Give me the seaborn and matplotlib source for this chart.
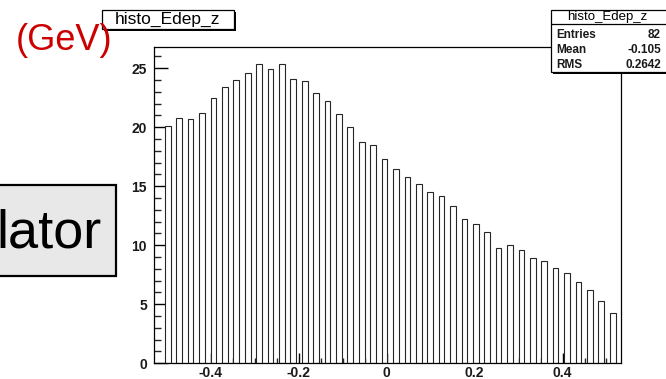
import numpy as np
import pandas as pd
import matplotlib
matplotlib.use("Agg")
import matplotlib.pyplot as plt
import seaborn as sns
from matplotlib.patches import Rectangle
from matplotlib.lines import Line2D
from matplotlib.ticker import MultipleLocator

# ---- data ----
bin_low = -0.511
bin_high = 0.527
n_bins = 40
counts = [20.1, 20.8, 20.7, 21.2, 22.5, 23.4, 24.0, 24.6, 25.4, 24.9,
          25.4, 24.1, 23.9, 22.9, 22.2, 21.15, 20.05, 18.75, 18.5, 17.35,
          16.5, 15.8, 15.15, 14.5, 14.2, 13.3, 12.2, 11.8, 11.1, 9.8,
          10.05, 9.6, 8.95, 8.65, 8.08, 7.65, 6.9, 6.25, 5.25, 4.26]
x_ticks = [-0.4, -0.2, 0, 0.2, 0.4]
x_tick_labels = ["-0.4", "-0.2", "0", "0.2", "0.4"]
y_ticks = [0, 5, 10, 15, 20, 25]
hist_name = "histo_Edep_z"
stats_labels = ["Entries", "Mean", "RMS"]
stats_values = ["82", "-0.105", "0.2642"]
unit_text = "(GeV)"
side_text = "lator"

sns.set_theme(style="white")
plt.rcParams["font.family"] = ["Liberation Sans", "DejaVu Sans"]

W, H = 666, 379
fig = plt.figure(figsize=(W / 100, H / 100), dpi=100)
fig.patch.set_facecolor("white")


def fx(x):
    return x / W


def fy(y):
    return 1 - y / H


ax_l, ax_r, ax_t, ax_b = 154, 621, 47, 363.3
ax = fig.add_axes([fx(ax_l), fy(ax_b), (ax_r - ax_l) / W, (ax_b - ax_t) / H])

edges = np.linspace(bin_low, bin_high, n_bins + 1)
centers = (edges[:-1] + edges[1:]) / 2
df = pd.DataFrame({"z": centers, "edep": counts})
sns.histplot(data=df, x="z", weights="edep", bins=list(edges), shrink=0.5, fill=True,
             color="white", alpha=1, edgecolor="#262626", linewidth=0.8, ax=ax)

ax.set_xlim(-0.5295, 0.533)
ax.set_ylim(0, 26.8)
ax.set_xlabel("")
ax.set_ylabel("")
ax.set_xticks(x_ticks)
ax.set_xticklabels(x_tick_labels)
ax.set_yticks(y_ticks)
ax.set_yticklabels([str(v) for v in y_ticks])
ax.xaxis.set_minor_locator(MultipleLocator(0.05))
ax.yaxis.set_minor_locator(MultipleLocator(1))
ax.tick_params(axis="x", which="major", direction="in", length=7, width=1,
               pad=2, labelsize=10, colors="black", bottom=True)
ax.tick_params(axis="x", which="minor", direction="in", length=3.5, width=1,
               bottom=True)
ax.tick_params(axis="y", which="major", direction="in", length=10, width=1,
               pad=5, labelsize=10, colors="black", left=True)
ax.tick_params(axis="y", which="minor", direction="in", length=5, width=1,
               left=True)
for lab in ax.get_xticklabels() + ax.get_yticklabels():
    lab.set_fontweight("bold")
    lab.set_color("#1a1a1a")
for s in ax.spines.values():
    s.set_visible(True)
    s.set_color("black")
    s.set_linewidth(0.9)
ax.set_facecolor("white")


def box(x0, y0, x1, y1, face="white", lw=0.9, shadow=2, z=5):
    if shadow:
        fig.patches.append(Rectangle((fx(x0 + shadow), fy(y1 + shadow)),
                                     (x1 - x0) / W, (y1 - y0) / H,
                                     transform=fig.transFigure, facecolor="black",
                                     edgecolor="none", zorder=z))
    fig.patches.append(Rectangle((fx(x0), fy(y1)), (x1 - x0) / W, (y1 - y0) / H,
                                 transform=fig.transFigure, facecolor=face,
                                 edgecolor="black", linewidth=lw, zorder=z + 0.1))


# title box
box(102, 10, 234, 29)
fig.text(fx(168), fy(19.5), hist_name, ha="center", va="center", fontsize=12.5,
         color="black", zorder=6)

# stats box
box(551, 10, 670, 72)
fig.lines.append(Line2D([fx(551), fx(670)], [fy(24), fy(24)], transform=fig.transFigure,
                        color="black", linewidth=0.9, zorder=6))
fig.text(fx(607), fy(17), hist_name, ha="center", va="center", fontsize=9.5,
         color="black", zorder=6)
for i, (lab, val) in enumerate(zip(stats_labels, stats_values)):
    yy = 35 + 15 * i
    fig.text(fx(556), fy(yy), lab, ha="left", va="center", fontsize=8.5,
             fontweight="bold", color="#1a1a1a", zorder=6)
    fig.text(fx(661), fy(yy), val, ha="right", va="center", fontsize=8.5,
             fontweight="bold", color="#1a1a1a", zorder=6)

# slide overlay elements
fig.text(fx(16), fy(40), unit_text, ha="left", va="center", fontsize=26,
         color="#cc0000", zorder=6)
fig.patches.append(Rectangle((fx(-3), fy(276)), 119 / W, 91 / H,
                             transform=fig.transFigure, facecolor="#e8e8e8",
                             edgecolor="black", linewidth=1.6, zorder=5))
fig.text(fx(102), fy(247), side_text, ha="right", va="baseline", fontsize=39,
         color="black", zorder=6)

fig.savefig("out.png", dpi=100, facecolor="white")
